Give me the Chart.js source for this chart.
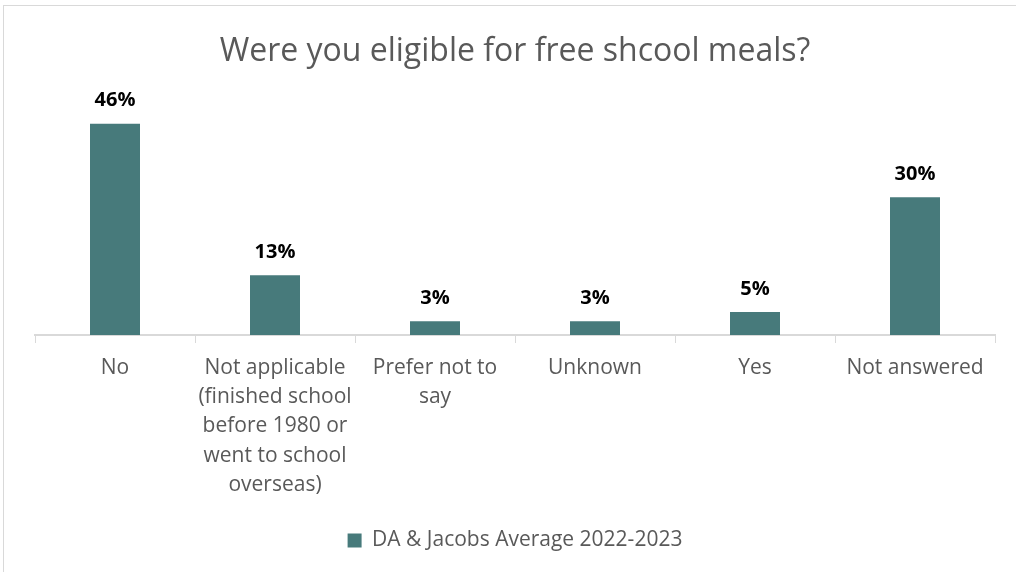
<!DOCTYPE html>
<html>
<head>
<meta charset="utf-8">
<script src="https://cdn.jsdelivr.net/npm/chart.js@4"></script>
<style>
  html, body { margin: 0; padding: 0; background: #fff; }
  .frame {
    position: absolute; left: 3px; top: 5px;
    width: 1030px; height: 590px;
    border: 1px solid #d9d9d9;
  }
  .wrap { position: absolute; left: 0; top: 0; width: 1016px; height: 572px; }
</style>
</head>
<body>
<div class="frame"></div>
<div class="wrap"><canvas id="grafico"></canvas></div>
<script>
const categorias = [
    'No',
    ['Not applicable', '(finished school', 'before 1980 or', 'went to school', 'overseas)'],
    ['Prefer not to', 'say'],
    'Unknown',
    'Yes',
    'Not answered'
]
const valores = [46, 13, 3, 3, 5, 30]
const serie = 'DA & Jacobs Average 2022-2023'

const corBarra = '#477a7b'
const corTexto = '#595959'
const fonte = "'Open Sans', sans-serif"

// escreve a percentagem por cima de cada barra
const rotulos = {
    id: 'rotulos',
    afterDatasetsDraw(chart) {
        const ctx = chart.ctx
        const meta = chart.getDatasetMeta(0)
        ctx.save()
        ctx.font = 'bold 20px ' + fonte
        ctx.fillStyle = '#000'
        ctx.textAlign = 'center'
        ctx.textBaseline = 'middle'
        meta.data.forEach((barra, i) => {
            ctx.fillText(valores[i] + '%', barra.x, barra.y - 23)
        })
        ctx.restore()
    }
}

const config = {
    type: 'bar',
    data: {
        labels: categorias,
        datasets: [{
            label: serie,
            data: valores,
            backgroundColor: corBarra,
            categoryPercentage: 1,
            barPercentage: 0.3125
        }]
    },
    options: {
        responsive: true,
        maintainAspectRatio: false,
        animation: false,
        layout: {
            padding: { left: 35, right: 21, top: 20, bottom: 11 }
        },
        plugins: {
            title: {
                display: true,
                text: 'Were you eligible for free shcool meals?',
                color: corTexto,
                font: { family: fonte, size: 32, weight: 'normal' },
                padding: { top: 13, bottom: 11 }
            },
            legend: {
                position: 'bottom',
                labels: {
                    color: corTexto,
                    font: { family: fonte, size: 21 },
                    boxWidth: 14,
                    boxHeight: 14,
                    padding: 20
                }
            },
            tooltip: { enabled: false }
        },
        scales: {
            x: {
                grid: {
                    offset: true,
                    drawOnChartArea: false,
                    drawTicks: true,
                    tickLength: 8,
                    color: '#d9d9d9'
                },
                border: { color: '#d9d9d9', width: 2 },
                ticks: {
                    color: corTexto,
                    font: { family: fonte, size: 21, lineHeight: 1.4 },
                    maxRotation: 0,
                    autoSkip: false,
                    padding: 10
                }
            },
            y: {
                display: false,
                min: 0,
                max: 55
            }
        }
    },
    plugins: [rotulos]
}

new Chart(document.getElementById('grafico'), config)
</script>
</body>
</html>
